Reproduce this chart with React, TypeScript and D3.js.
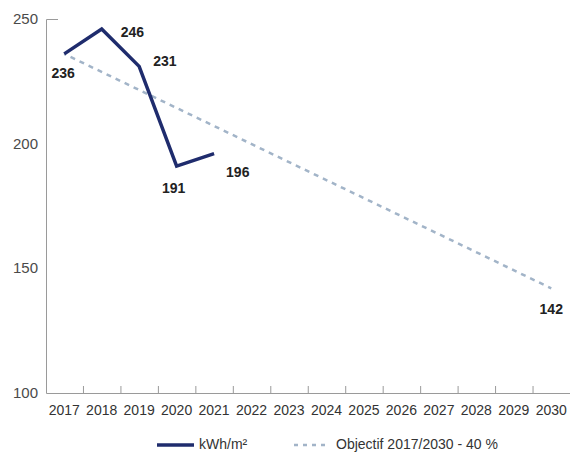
import React from "react";
import * as d3 from "d3";

const years = ["2017","2018","2019","2020","2021","2022","2023","2024","2025","2026","2027","2028","2029","2030"];
const actualYears = ["2017","2018","2019","2020","2021"];
const actualValues = [236, 246, 231, 191, 196];
const targetYears = ["2017","2030"];
const targetValues = [236, 142];
const yTicks = [100, 150, 200, 250];
const legendLabels = ["kWh/m²", "Objectif 2017/2030 - 40 %"];

const W = 573, H = 452;
const left = 46, right = 570, top = 19, bottom = 393;
const NAVY = "#1f2c6d";
const DASH = "#a2b4c8";
const FONT = "'Liberation Sans', Arial, Helvetica, sans-serif";

export default function App() {
  const x = d3.scaleBand<string>().domain(years).range([left - 0.5, right]);
  const y = d3.scaleLinear().domain([100, 250]).range([bottom, top]);
  const cx = (d: string) => (x(d) as number) + x.bandwidth() / 2;

  const actual = actualYears.map((yr, i) => [cx(yr), y(actualValues[i])] as [number, number]);
  const target = targetYears.map((yr, i) => [cx(yr), y(targetValues[i])] as [number, number]);
  const line = d3.line();

  const labelOffsets: [number, number, string][] = [
    [-1, 24, "middle"],
    [19, 8, "start"],
    [14, 0, "start"],
    [-3, 27, "middle"],
    [12, 23, "start"],
  ];

  return (
    <svg width={W} height={H} style={{ position: "absolute", left: 0, top: 0 }} fontFamily={FONT}>
      <path d={`M${left + 12},${top + 0.5}H${left + 0.5}V${bottom + 0.5}H${right}`} fill="none" stroke="#9a9a9a" strokeWidth={1} />
      {years.slice(1).map((yr) => (
        <line key={yr} x1={(x(yr) as number) + 0.5} x2={(x(yr) as number) + 0.5} y1={bottom} y2={bottom - 7} stroke="#9a9a9a" strokeWidth={1} />
      ))}
      {yTicks.map((t) => (
        <text key={t} x={38} y={y(t) + 5} textAnchor="end" fontSize={15} fill="#4a4a4a">{t}</text>
      ))}
      {years.map((yr) => (
        <text key={yr} x={cx(yr)} y={bottom + 22} textAnchor="middle" fontSize={14} fill="#333">{yr}</text>
      ))}
      <path d={line(target) || ""} fill="none" stroke={DASH} strokeWidth={2.5} strokeDasharray="5,5" strokeDashoffset={-7} />
      <path d={line(actual) || ""} fill="none" stroke={NAVY} strokeWidth={3.5} strokeLinejoin="miter" />
      {actual.map((p, i) => (
        <text key={i} x={p[0] + labelOffsets[i][0]} y={p[1] + labelOffsets[i][1]} textAnchor={labelOffsets[i][2] as any} fontSize={14} fontWeight="bold" fill="#222">{actualValues[i]}</text>
      ))}
      <text x={target[1][0]} y={target[1][1] + 26} textAnchor="middle" fontSize={14} fontWeight="bold" fill="#222">{targetValues[1]}</text>
      <line x1={157} x2={194} y1={445} y2={445} stroke={NAVY} strokeWidth={3.5} />
      <text x={199} y={449} fontSize={14} fill="#333">{legendLabels[0]}</text>
      <line x1={294} x2={330} y1={445} y2={445} stroke={DASH} strokeWidth={2.5} strokeDasharray="4,5" />
      <text x={336} y={449} fontSize={14} fill="#333">{legendLabels[1]}</text>
    </svg>
  );
}
